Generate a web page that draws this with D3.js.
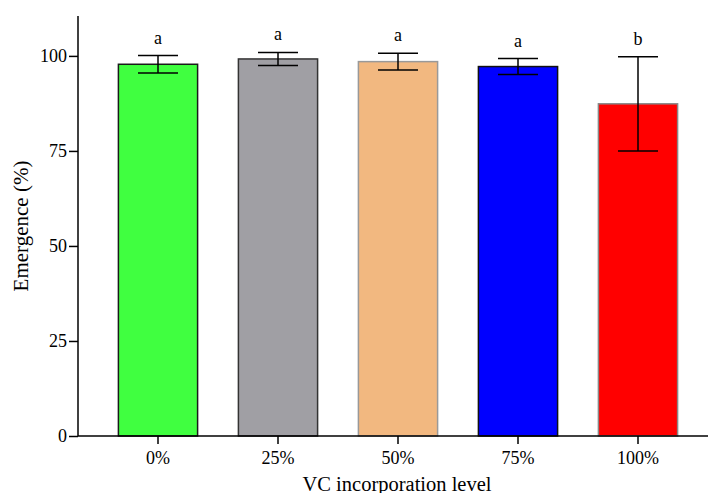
<!DOCTYPE html>
<html>
<head>
<meta charset="utf-8">
<script src="https://cdn.jsdelivr.net/npm/d3@7"></script>
<style>
  body { margin: 0; background: #fff; }
  text { font-family: "Liberation Serif", "Times New Roman", serif; }
</style>
</head>
<body>
<div id="chart"></div>
<script>
var levels = ["0%", "25%", "50%", "75%", "100%"];
var emergence = [97.8, 99.2, 98.5, 97.2, 87.4];
var errors = [2.3, 1.7, 2.2, 2.1, 12.4];
var letters = ["a", "a", "a", "a", "b"];
var fills = ["#40ff40", "#a09fa4", "#f2b880", "#0000ff", "#ff0000"];
var strokes = ["#1a1a1a", "#333333", "#999999", "#111111", "#888888"];
var y_ticks = [0, 25, 50, 75, 100];

function draw_chart() {
    var width = 708, height = 493;
    var margin = { left: 78, bottom: 436, top: 16 };

    var svg = d3.select("#chart")
        .append("svg")
        .attr("width", width)
        .attr("height", height);

    var x = d3.scaleBand()
        .domain(levels)
        .range([98, 698])
        .paddingInner(0.34)
        .paddingOuter(0.17);

    var y = d3.scaleLinear()
        .domain([0, 110.5])
        .range([margin.bottom, margin.top]);

    var data = levels.map(function (d, i) {
        return { level: d, value: emergence[i], err: errors[i], letter: letters[i], fill: fills[i], stroke: strokes[i] };
    });

    function cx(d) { return x(d.level) + x.bandwidth() / 2; }

    // bars
    svg.selectAll(".bar")
        .data(data)
        .enter()
        .append("rect")
        .attr("class", "bar")
        .attr("x", function (d) { return x(d.level); })
        .attr("y", function (d) { return y(d.value); })
        .attr("width", x.bandwidth())
        .attr("height", function (d) { return margin.bottom - y(d.value); })
        .style("fill", function (d) { return d.fill; })
        .style("stroke", function (d) { return d.stroke; })
        .style("stroke-width", 1.5);

    // error bars
    var cap = 20;
    var eb = svg.selectAll(".err")
        .data(data)
        .enter()
        .append("g")
        .attr("class", "err")
        .style("stroke", "#000")
        .style("stroke-width", 1.5);

    eb.append("line")
        .attr("x1", cx).attr("x2", cx)
        .attr("y1", function (d) { return y(d.value + d.err); })
        .attr("y2", function (d) { return y(d.value - d.err); });

    eb.append("line")
        .attr("x1", function (d) { return cx(d) - cap; })
        .attr("x2", function (d) { return cx(d) + cap; })
        .attr("y1", function (d) { return y(d.value + d.err); })
        .attr("y2", function (d) { return y(d.value + d.err); });

    eb.append("line")
        .attr("x1", function (d) { return cx(d) - cap; })
        .attr("x2", function (d) { return cx(d) + cap; })
        .attr("y1", function (d) { return y(d.value - d.err); })
        .attr("y2", function (d) { return y(d.value - d.err); });

    // significance letters
    svg.selectAll(".letter")
        .data(data)
        .enter()
        .append("text")
        .attr("class", "letter")
        .attr("x", cx)
        .attr("y", function (d) { return y(d.value + d.err) - 12; })
        .attr("text-anchor", "middle")
        .style("font-size", "18px")
        .text(function (d) { return d.letter; });

    // y axis
    var yAxis = svg.append("g")
        .attr("transform", "translate(" + margin.left + ",0)")
        .call(d3.axisLeft(y).tickValues(y_ticks).tickSizeOuter(0).tickSize(9).tickPadding(2));
    yAxis.select(".domain").remove();
    yAxis.append("line")
        .attr("x1", 0).attr("x2", 0)
        .attr("y1", margin.top).attr("y2", margin.bottom)
        .style("stroke", "#000").style("stroke-width", 1.5);
    yAxis.selectAll(".tick line").style("stroke-width", 1.5);
    yAxis.selectAll(".tick text")
        .style("font-size", "18px")
        .style("font-family", "Liberation Serif")
        .style("fill", "#000");

    // x axis
    var xAxis = svg.append("g")
        .attr("transform", "translate(0," + margin.bottom + ")")
        .call(d3.axisBottom(x).tickSizeOuter(0).tickSize(8).tickPadding(7));
    xAxis.select(".domain").remove();
    xAxis.append("line")
        .attr("x1", margin.left).attr("x2", width)
        .attr("y1", 0).attr("y2", 0)
        .style("stroke", "#000").style("stroke-width", 1.5);
    xAxis.selectAll(".tick line").style("stroke-width", 1.5);
    xAxis.selectAll(".tick text")
        .style("font-size", "18px")
        .style("font-family", "Liberation Serif")
        .style("fill", "#000");

    // axis titles
    svg.append("text")
        .attr("x", 397)
        .attr("y", 491)
        .attr("text-anchor", "middle")
        .style("font-size", "20.5px")
        .text("VC incorporation level");

    svg.append("text")
        .attr("transform", "translate(28,226) rotate(-90)")
        .attr("text-anchor", "middle")
        .style("font-size", "21px")
        .text("Emergence (%)");
}

draw_chart();
</script>
</body>
</html>
